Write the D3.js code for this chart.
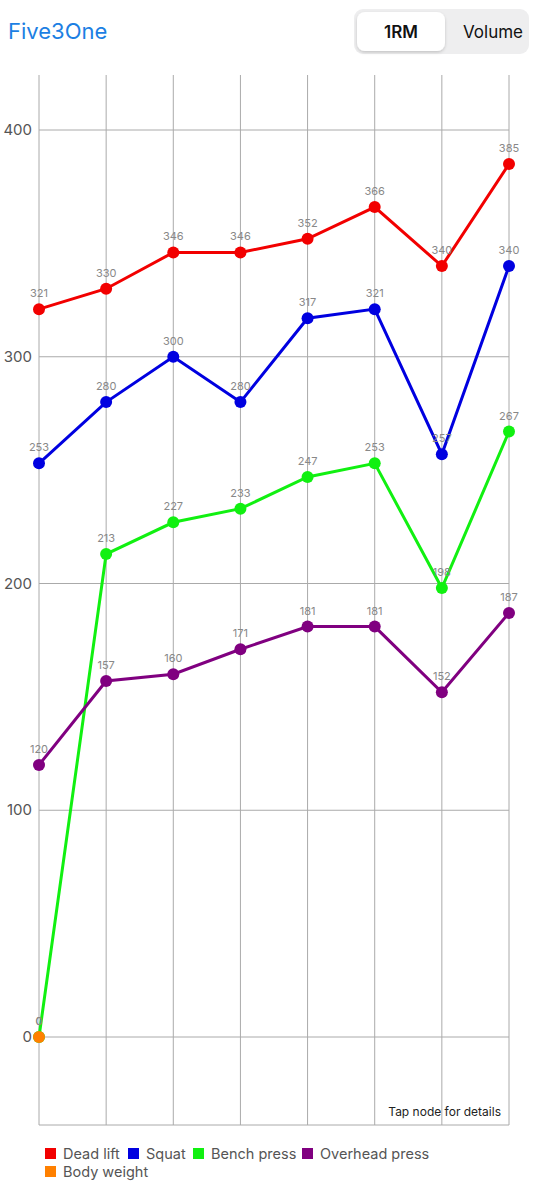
<!DOCTYPE html>
<html><head><meta charset="utf-8">
<script src="https://cdn.jsdelivr.net/npm/d3@7"></script>
<style>
body{margin:0;background:#fff;font-family:"Open Sans","Noto Sans",sans-serif;}
</style></head>
<body><svg id="c" width="536" height="1200"></svg>
<script>
const categories = [1,2,3,4,5,6,7,8];
const deadLift = [321,330,346,346,352,366,340,385];
const squat = [253,280,300,280,317,321,257,340];
const benchPress = [0,213,227,233,247,253,198,267];
const overheadPress = [120,157,160,171,181,181,152,187];
const bodyWeight = [0,null,null,null,null,null,null,null];
const yTicks = [0,100,200,300,400];
const seriesNames = ["Dead lift","Squat","Bench press","Overhead press","Body weight"];
const seriesColors = ["#f20000","#0000e0","#11f011","#800080","#ff8000"];
const seriesData = [deadLift,squat,benchPress,overheadPress,bodyWeight];

const svg = d3.select("#c");
const x = d3.scalePoint().domain(categories).range([39,509]);
const y = d3.scaleLinear().domain([0,400]).range([1037,130]);
const plotTop = 75, plotBottom = 1125;

// header
svg.append("text").attr("x",8).attr("y",39).attr("font-size",22).attr("fill","#1c7fe3")
  .attr("font-family","Inter, 'Open Sans', sans-serif").text("Five3One");
svg.append("rect").attr("x",354).attr("y",9).attr("width",175).attr("height",45).attr("rx",9).attr("fill","#eeeeef");
const defs = svg.append("defs");
const f = defs.append("filter").attr("id","sh").attr("x","-20%").attr("y","-20%").attr("width","140%").attr("height","150%");
f.append("feDropShadow").attr("dx",0).attr("dy",1.5).attr("stdDeviation",1.8).attr("flood-color","#000").attr("flood-opacity",0.18);
svg.append("rect").attr("x",357).attr("y",12).attr("width",88).attr("height",39).attr("rx",8).attr("fill","#fff").attr("filter","url(#sh)");
svg.append("text").attr("x",401).attr("y",38).attr("text-anchor","middle").attr("font-size",17).attr("font-weight",600)
  .attr("font-family","Inter, sans-serif").attr("fill","#111").text("1RM");
svg.append("text").attr("x",493).attr("y",38).attr("text-anchor","middle").attr("font-size",17)
  .attr("font-family","Inter, sans-serif").attr("fill","#111").text("Volume");

// grid
const g = svg.append("g");
g.selectAll("line.v").data(categories).join("line").attr("class","v")
  .attr("x1",d=>x(d)).attr("x2",d=>x(d)).attr("y1",plotTop).attr("y2",plotBottom)
  .attr("stroke","#aaa").attr("stroke-width",1);
g.selectAll("line.h").data(yTicks).join("line").attr("class","h")
  .attr("x1",39).attr("x2",509).attr("y1",d=>y(d)).attr("y2",d=>y(d))
  .attr("stroke","#aaa").attr("stroke-width",1);
g.append("line").attr("x1",39).attr("x2",509).attr("y1",plotBottom).attr("y2",plotBottom).attr("stroke","#aaa");
g.selectAll("text.yl").data(yTicks).join("text").attr("class","yl")
  .attr("x",32).attr("y",d=>y(d)+5).attr("text-anchor","end").attr("font-size",15)
  .attr("fill","#555").attr("font-family","Inter, sans-serif").text(d=>d);

svg.append("text").attr("x",501).attr("y",1116).attr("text-anchor","end").attr("font-size",12)
  .attr("fill","#222").attr("font-family","Inter, sans-serif").text("Tap node for details");

// series
const line = d3.line().defined(d=>d.v!=null).x(d=>x(d.c)).y(d=>y(d.v));
seriesData.forEach((arr,i)=>{
  const pts = arr.map((v,j)=>({c:categories[j],v}));
  const sg = svg.append("g");
  sg.append("path").datum(pts).attr("d",line).attr("fill","none")
    .attr("stroke",seriesColors[i]).attr("stroke-width",3);
  const valid = pts.filter(d=>d.v!=null);
  sg.selectAll("text").data(valid).join("text")
    .attr("x",d=>x(d.c)).attr("y",d=>y(d.v)-12).attr("text-anchor","middle")
    .attr("font-size",11).attr("fill","#888").attr("font-family","Inter, sans-serif").text(d=>d.v);
  sg.selectAll("circle").data(valid).join("circle")
    .attr("cx",d=>x(d.c)).attr("cy",d=>y(d.v)).attr("r",6).attr("fill",seriesColors[i]);
});

// legend
const legendPos = [[45,1154],[128,1154],[193,1154],[302,1154],[45,1172]];
seriesNames.forEach((n,i)=>{
  const [lx,ly] = legendPos[i];
  svg.append("rect").attr("x",lx).attr("y",ly-6).attr("width",11).attr("height",11).attr("fill",seriesColors[i]);
  svg.append("text").attr("x",lx+18).attr("y",ly+5).attr("font-size",14.5).attr("fill","#555")
    .attr("font-family","Inter, sans-serif").text(n);
});
</script></body></html>
